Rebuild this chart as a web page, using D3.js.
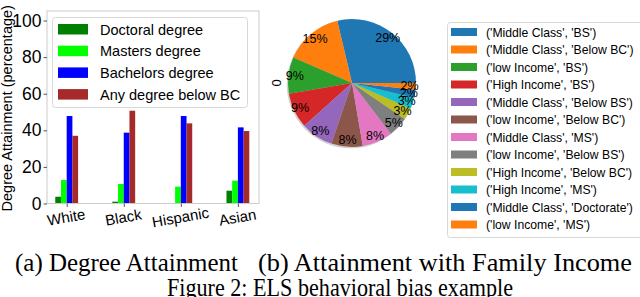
<!DOCTYPE html>
<html>
<head>
<meta charset="utf-8">
<script src="https://cdn.jsdelivr.net/npm/d3@7"></script>
<style>
    body { margin: 0; background: #fff; }
    svg { display: block; font-family: "Liberation Sans", Arial, sans-serif; }
    .caption { font-family: "Liberation Serif", "Times New Roman", serif; font-size: 25px; fill: #000; }
</style>
</head>
<body>
<div id="chart"></div>
<script>
const groups = ["White", "Black", "Hispanic", "Asian"];
const seriesNames = ["Doctoral degree", "Masters degree", "Bachelors degree", "Any degree below BC"];
const seriesColors = ["#008000", "#00ff00", "#0000ff", "#a52a2a"];
const doctoral = [3.7, 1.0, 0.2, 7.0];
const masters = [12.8, 10.7, 9.2, 12.5];
const bachelors = [47.8, 38.7, 47.8, 41.6];
const belowBC = [37.0, 50.7, 43.8, 39.6];
const yTicks = [0, 20, 40, 60, 80, 100];

const pieLabels = [
    "('Middle Class', 'BS')",
    "('Middle Class', 'Below BC')",
    "('low Income', 'BS')",
    "('High Income', 'BS')",
    "('Middle Class', 'Below BS')",
    "('low Income', 'Below BC')",
    "('Middle Class', 'MS')",
    "('low Income', 'Below BS')",
    "('High Income', 'Below BC')",
    "('High Income', 'MS')",
    "('Middle Class', 'Doctorate')",
    "('low Income', 'MS')"
];
const pieValues = [28.7, 14.8, 9.2, 8.9, 8.2, 7.9, 7.7, 5.1, 3.0, 2.8, 2.0, 1.7];

const width = 640;
const height = 297;

const svg = d3.select("#chart")
    .append("svg")
    .attr("width", width)
    .attr("height", height);

// ---- (a) grouped bar chart ----
const plot = { left: 47, right: 259, top: 11, bottom: 203.5 };

const x = d3.scaleLinear()
    .domain([-0.345, 3.37])
    .range([plot.left, plot.right]);

const y = d3.scaleLinear()
    .domain([0, 105])
    .range([plot.bottom, plot.bottom - 105 * 1.83]);

const barW = 0.1;
const series = [doctoral, masters, bachelors, belowBC];

series.forEach((vals, s) => {
    svg.append("g")
        .selectAll("rect")
        .data(vals)
        .enter()
        .append("rect")
        .attr("x", (d, i) => x(i + (s - 2) * barW))
        .attr("y", d => y(d))
        .attr("width", x(barW) - x(0))
        .attr("height", d => y(0) - y(d))
        .attr("fill", seriesColors[s]);
});

svg.append("rect")
    .attr("x", plot.left)
    .attr("y", plot.top)
    .attr("width", plot.right - plot.left)
    .attr("height", plot.bottom - plot.top)
    .attr("fill", "none")
    .attr("stroke", "#cccccc")
    .attr("stroke-width", 1);

const yAxis = svg.append("g")
    .attr("transform", `translate(${plot.left},0)`)
    .call(d3.axisLeft(y).tickValues(yTicks).tickSize(3.5).tickPadding(2));
yAxis.select(".domain").remove();
yAxis.selectAll("line").attr("stroke", "#555");
yAxis.selectAll("text")
    .attr("font-size", 17.5)
    .attr("font-family", "Liberation Sans, Arial, sans-serif")
    .attr("fill", "#000");

const xAxis = svg.append("g")
    .attr("transform", `translate(0,${plot.bottom})`)
    .call(d3.axisBottom(x).tickValues(d3.range(groups.length)).tickFormat(i => groups[i]).tickSize(3.5));
xAxis.select(".domain").remove();
xAxis.selectAll("line").attr("stroke", "#555");
xAxis.selectAll("text")
    .attr("font-size", 15)
    .attr("font-family", "Liberation Sans, Arial, sans-serif")
    .attr("fill", "#000")
    .attr("text-anchor", "middle")
    .attr("dy", 0)
    .attr("y", 0)
    .attr("transform", "translate(0,19) rotate(-10)");

svg.append("text")
    .attr("transform", `translate(12,${(plot.top + plot.bottom) / 2 + 1}) rotate(-90)`)
    .attr("text-anchor", "middle")
    .attr("font-size", 14.5)
    .text("Degree Attainment (percentage)");

// legend (a)
const legA = svg.append("g");
legA.append("rect")
    .attr("x", 52.5).attr("y", 17.5)
    .attr("width", 195).attr("height", 90)
    .attr("rx", 3)
    .attr("fill", "#fff").attr("fill-opacity", 0.8)
    .attr("stroke", "#d8d8d8");

legA.selectAll(".lg")
    .data(seriesNames)
    .enter()
    .append("rect")
    .attr("x", 58)
    .attr("y", (d, i) => 24 + i * 21.7)
    .attr("width", 30)
    .attr("height", 10.5)
    .attr("fill", (d, i) => seriesColors[i]);

legA.selectAll("text")
    .data(seriesNames)
    .enter()
    .append("text")
    .attr("x", 100)
    .attr("y", (d, i) => 34.5 + i * 21.7)
    .attr("font-size", 14.5)
    .text(d => d);

// ---- (b) pie chart ----
const tab10 = d3.schemeCategory10;
const cx = 352, cy = 83, r = 64;

// matplotlib style: start at 3 o'clock, counterclockwise
const pie = d3.pie()
    .sort(null)
    .value(d => d)
    .startAngle(Math.PI / 2)
    .endAngle(Math.PI / 2 - 2 * Math.PI);

const arcs = pie(pieValues);
const arc = d3.arc().innerRadius(0).outerRadius(r);

const pieG = svg.append("g").attr("transform", `translate(${cx},${cy})`);

pieG.append("circle")
    .attr("cx", -1.3)
    .attr("cy", 1.3)
    .attr("r", r)
    .attr("fill", "#000")
    .attr("fill-opacity", 0.18);

pieG.selectAll("path")
    .data(arcs)
    .enter()
    .append("path")
    .attr("d", arc)
    .attr("fill", (d, i) => tab10[i % 10]);

const labelArc = d3.arc().innerRadius(r * 0.9).outerRadius(r * 0.9);
pieG.selectAll(".pct")
    .data(arcs)
    .enter()
    .append("text")
    .attr("class", "pct")
    .attr("transform", d => `translate(${labelArc.centroid(d)})`)
    .attr("text-anchor", "middle")
    .attr("dominant-baseline", "central")
    .attr("font-size", 12.5)
    .text(d => `${Math.round(d.value)}%`);

svg.append("text")
    .attr("transform", `translate(281,${cy}) rotate(-90)`)
    .attr("text-anchor", "middle")
    .attr("font-size", 13)
    .text("0");

// legend (b)
const legB = svg.append("g");
legB.append("rect")
    .attr("x", 447.5).attr("y", 22.5)
    .attr("width", 200).attr("height", 215)
    .attr("rx", 3)
    .attr("fill", "#fff")
    .attr("stroke", "#d8d8d8");

legB.selectAll(".lp")
    .data(pieLabels)
    .enter()
    .append("rect")
    .attr("x", 451)
    .attr("y", (d, i) => 28 + i * 17.5)
    .attr("width", 26)
    .attr("height", 8)
    .attr("fill", (d, i) => tab10[i % 10]);

legB.selectAll("text")
    .data(pieLabels)
    .enter()
    .append("text")
    .attr("x", 486)
    .attr("y", (d, i) => 36.5 + i * 17.5)
    .attr("font-size", 12.2)
    .text(d => d);

// ---- captions ----
svg.append("text").attr("class", "caption")
    .attr("x", 15).attr("y", 271)
    .attr("textLength", 223)
    .attr("lengthAdjust", "spacingAndGlyphs")
    .text("(a) Degree Attainment");
svg.append("text").attr("class", "caption")
    .attr("x", 258).attr("y", 271)
    .attr("textLength", 374)
    .attr("lengthAdjust", "spacingAndGlyphs")
    .text("(b) Attainment with Family Income");
svg.append("text").attr("class", "caption")
    .attr("x", 167).attr("y", 296)
    .attr("textLength", 346)
    .attr("lengthAdjust", "spacingAndGlyphs")
    .text("Figure 2: ELS behavioral bias example");
</script>
</body>
</html>
